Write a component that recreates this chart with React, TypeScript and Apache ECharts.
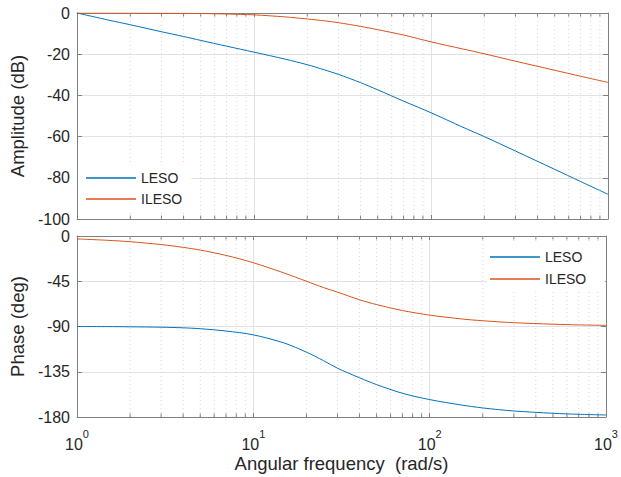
import React, { useEffect, useRef } from "react";
import * as echarts from "echarts";

// Angular frequency samples (rad/s)
const frequency = [1, 1.5, 2, 3, 4, 5, 7, 10, 15, 20, 25, 30, 40, 50, 70, 100, 150, 200, 300, 500, 700, 1000];
// Amplitude (dB)
const lesoAmplitude = [0, -3.4, -5.7, -9.1, -11.4, -13.3, -16.1, -19.0, -22.4, -25.1, -27.6, -29.8, -33.8, -37.3, -42.8, -48.4, -55.3, -60.0, -67.0, -75.9, -81.8, -88.0];
const ilesoAmplitude = [0, -0.02, -0.04, -0.09, -0.16, -0.25, -0.5, -0.9, -1.9, -2.9, -3.8, -4.7, -6.5, -8.1, -10.7, -14.0, -17.4, -19.8, -23.4, -27.8, -30.7, -33.7];
// Phase (deg)
const lesoPhase = [-90, -90.1, -90.3, -90.7, -91.3, -92.2, -94.5, -98.3, -106.5, -115.5, -124, -131.5, -141, -147.8, -156.4, -162.7, -168, -171, -174, -176.3, -177.3, -178];
const ilesoPhase = [-2.9, -4.3, -5.7, -8.5, -11.3, -14, -19.3, -26.6, -36.9, -45, -51.3, -55.8, -63.4, -68.2, -74.1, -78.7, -82.4, -84.3, -86.2, -87.7, -88.4, -88.9];

const seriesNames = ["LESO", "ILESO"];
const minorFrequencies = [2, 3, 4, 5, 6, 7, 8, 9, 20, 30, 40, 50, 60, 70, 80, 90, 200, 300, 400, 500, 600, 700, 800, 900];
const freqMin = 1;
const freqMax = 1000;
const amplitudeMin = -100;
const amplitudeMax = 0;
const amplitudeStep = 20;
const phaseMin = -180;
const phaseMax = 0;
const phaseStep = 45;

const FONT = "'Liberation Sans', Arial, Helvetica, sans-serif";
const TEXT = "#262626";
const AXIS = "#808080";
const GRID = "#e2e2e2";
const BLUE = "#0072BD";
const ORANGE = "#D95319";

function zip(xs: number[], ys: number[]) {
  return xs.map((x, i) => [x, ys[i]]);
}

function minorRender(params: any, api: any) {
  const cs = params.coordSys;
  const x = api.coord([api.value(0), api.value(1)])[0];
  const top = cs.y;
  const bottom = cs.y + cs.height;
  return {
    type: "group",
    children: [
      { type: "line", shape: { x1: x, y1: top, x2: x, y2: bottom }, style: { stroke: "#d6d6d6", lineWidth: 1, lineDash: [1, 3] } },
      { type: "line", shape: { x1: x, y1: bottom, x2: x, y2: bottom - 3.5 }, style: { stroke: AXIS, lineWidth: 1 } },
      { type: "line", shape: { x1: x, y1: top, x2: x, y2: top + 3.5 }, style: { stroke: AXIS, lineWidth: 1 } },
    ],
  };
}

function xAxisDef(gridIndex: number, position: "bottom" | "top", labels: boolean, split: boolean, name?: string) {
  return {
    type: "log",
    logBase: 10,
    min: freqMin,
    max: freqMax,
    gridIndex,
    position,
    name: name,
    nameLocation: "middle",
    nameGap: 37,
    nameTextStyle: { fontSize: 18.5, color: TEXT, fontFamily: FONT },
    axisLine: { show: true, onZero: false, lineStyle: { color: AXIS, width: 1 } },
    axisTick: { show: true, inside: true, length: 4, lineStyle: { color: AXIS } },
    axisLabel: {
      show: labels,
      margin: 11,
      fontFamily: FONT,
      color: TEXT,
      formatter: (v: number) => "{b|10}{s|" + Math.round(Math.log10(v)) + "}",
      rich: {
        b: { fontSize: 16, lineHeight: 24, verticalAlign: "bottom", color: TEXT, fontFamily: FONT },
        s: { fontSize: 11, lineHeight: 10, verticalAlign: "top", color: TEXT, fontFamily: FONT },
      },
    },
    splitLine: { show: split, lineStyle: { color: GRID, width: 1 } },
  };
}

function yAxisDef(gridIndex: number, position: "left" | "right", min: number, max: number, interval: number, labels: boolean, name?: string) {
  return {
    type: "value",
    gridIndex,
    position,
    min,
    max,
    interval,
    name,
    nameLocation: "middle",
    nameGap: 45,
    nameTextStyle: { fontSize: 18.5, color: TEXT, fontFamily: FONT },
    axisLine: { show: true, onZero: false, lineStyle: { color: AXIS, width: 1 } },
    axisTick: { show: true, inside: true, length: 5, lineStyle: { color: AXIS } },
    axisLabel: { show: labels, fontSize: 16, margin: 7, color: TEXT, fontFamily: FONT },
    splitLine: { show: labels, lineStyle: { color: GRID, width: 1 } },
  };
}

function lineSeries(name: string, color: string, xi: number, yi: number, ys: number[]) {
  return {
    type: "line",
    name,
    xAxisIndex: xi,
    yAxisIndex: yi,
    data: zip(frequency, ys),
    symbol: "none",
    showSymbol: false,
    smooth: 0.3,
    z: 3,
    lineStyle: { color, width: 1 },
    itemStyle: { color },
  };
}

export default function App() {
  const ref = useRef<HTMLDivElement>(null);
  useEffect(() => {
    if (!ref.current) return;
    const chart = echarts.init(ref.current, null, { renderer: "svg" });
    chart.setOption({
      animation: false,
      backgroundColor: "#fff",
      textStyle: { fontFamily: FONT },
      grid: [
        { left: 77, right: 13, top: 13, height: 206 },
        { left: 77, right: 13, top: 236, height: 181 },
      ],
      xAxis: [
        xAxisDef(0, "bottom", false, true),
        xAxisDef(0, "top", false, false),
        xAxisDef(1, "bottom", true, true, "Angular frequency  (rad/s)"),
        xAxisDef(1, "top", false, false),
      ],
      yAxis: [
        yAxisDef(0, "left", amplitudeMin, amplitudeMax, amplitudeStep, true, "Amplitude (dB)"),
        yAxisDef(0, "right", amplitudeMin, amplitudeMax, amplitudeStep, false),
        yAxisDef(1, "left", phaseMin, phaseMax, phaseStep, true, "Phase (deg)"),
        yAxisDef(1, "right", phaseMin, phaseMax, phaseStep, false),
      ],
      legend: [
        {
          data: seriesNames,
          left: 78,
          top: 165,
          orient: "vertical",
          icon: "rect",
          itemWidth: 50,
          itemHeight: 1.5,
          itemGap: 7,
          padding: [6, 9, 6, 8],
          backgroundColor: "#fff",
          selectedMode: false,
          textStyle: { fontSize: 14, color: TEXT, fontFamily: FONT },
        },
        {
          data: seriesNames,
          left: 487,
          top: 243,
          orient: "vertical",
          icon: "rect",
          itemWidth: 50,
          itemHeight: 1.5,
          itemGap: 8,
          padding: [7, 19, 6, 3],
          backgroundColor: "#fff",
          selectedMode: false,
          textStyle: { fontSize: 14, color: TEXT, fontFamily: FONT },
        },
      ],
      series: [
        { type: "custom", xAxisIndex: 0, yAxisIndex: 0, z: 1, silent: true, renderItem: minorRender, data: minorFrequencies.map((f) => [f, -50]) },
        { type: "custom", xAxisIndex: 2, yAxisIndex: 2, z: 1, silent: true, renderItem: minorRender, data: minorFrequencies.map((f) => [f, -90]) },
        lineSeries(seriesNames[0], BLUE, 0, 0, lesoAmplitude),
        lineSeries(seriesNames[1], ORANGE, 0, 0, ilesoAmplitude),
        lineSeries(seriesNames[0], BLUE, 2, 2, lesoPhase),
        lineSeries(seriesNames[1], ORANGE, 2, 2, ilesoPhase),
      ],
    });
    return () => chart.dispose();
  }, []);
  return <div ref={ref} style={{ position: "fixed", left: 0, top: 0, width: 621, height: 477 }} />;
}
